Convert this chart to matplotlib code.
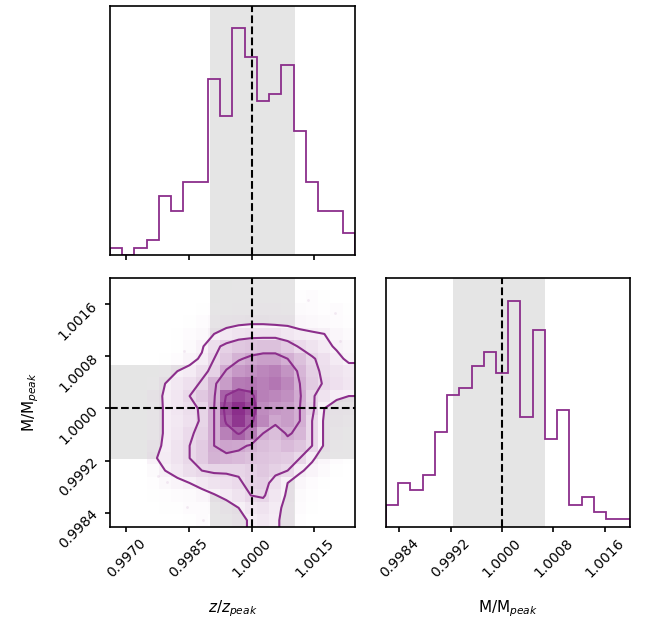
import numpy as np
import matplotlib.pyplot as plt
from matplotlib.colors import LinearSegmentedColormap

# marginal histogram counts, 20 bins each
z_counts = [1, 0, 1, 2, 8, 6, 10, 10, 24, 19, 31, 27, 21, 22, 26, 17, 10, 6, 6, 3]
m_counts = [3, 6, 5, 7, 13, 18, 19, 22, 24, 21, 31, 15, 27, 12, 16, 3, 4, 2, 1, 1]

z_range = [0.99662, 1.00247]
m_range = [0.99819, 1.00200]

# shaded intervals and reference value
z_band = [0.99900, 1.00104]
m_band = [0.99923, 1.00067]
ref = 1.0

z_ticks = [0.9970, 0.9985, 1.0000, 1.0015]
m_ticks = [0.9984, 0.9992, 1.0000, 1.0008, 1.0016]

# 2d density (20x20), first row = highest M, columns = increasing z
density = [
    [0, 0, 0, 0, 0, 0, 0, 0, 0, 0, 3.2, 3.2, 3.2, 3.2, 2.0, 0, 0, 0, 0, 0],
    [0, 0, 0, 0, 0, 0, 0, 0, 0, 2.0, 3.2, 4.3, 4.3, 4.3, 4.3, 3.2, 4.3, 2.0, 0, 0],
    [0, 0, 0, 0, 0, 0, 0, 2.0, 3.2, 4.3, 5.3, 5.3, 6.2, 6.2, 5.3, 5.3, 4.3, 3.2, 4.3, 2.0],
    [0, 0, 0, 0, 0, 0, 2.0, 4.3, 6.2, 7.0, 7.8, 8.2, 8.2, 7.8, 7.8, 7.0, 6.2, 5.3, 4.3, 3.2],
    [0, 0, 0, 0, 0, 2.0, 4.3, 6.2, 9.3, 11.4, 12.7, 13.3, 13.3, 13.3, 12.0, 10.7, 10.0, 9.3, 7.0, 5.3],
    [0, 0, 0, 0, 0, 2.0, 5.3, 8.6, 13.9, 16.3, 17.9, 18.5, 19.0, 19.0, 17.4, 14.5, 12.7, 10.7, 8.6, 7.0],
    [0, 0, 0, 0, 2.0, 4.3, 7.8, 10.0, 15.1, 17.9, 21.1, 22.6, 23.6, 23.6, 21.6, 19.0, 15.7, 13.3, 10.7, 8.2],
    [0, 0, 0, 0, 5.3, 9.3, 10.7, 13.9, 16.3, 22.1, 24.5, 25.5, 26.4, 27.3, 25.0, 20.6, 16.8, 13.9, 12.7, 11.4],
    [0, 0, 0, 4.3, 9.3, 11.4, 13.3, 15.7, 21.1, 24.0, 27.8, 28.2, 27.3, 28.2, 26.4, 21.6, 17.4, 14.5, 13.3, 12.0],
    [0, 0, 0, 7.0, 10.0, 12.0, 15.1, 17.9, 21.1, 30.4, 32.6, 30.9, 27.3, 26.4, 25.5, 22.1, 15.7, 12.7, 10.0, 9.3],
    [0, 0, 0, 6.2, 10.0, 12.0, 13.9, 15.7, 21.6, 32.2, 35.0, 32.6, 25.9, 24.5, 24.0, 21.6, 16.3, 9.3, 7.8, 7.0],
    [0, 0, 0, 6.2, 10.0, 11.4, 13.3, 15.7, 21.6, 30.9, 34.3, 30.9, 26.4, 22.6, 24.0, 21.6, 15.1, 8.6, 7.0, 6.2],
    [0, 0, 0, 6.2, 10.0, 12.0, 14.5, 16.3, 21.6, 27.3, 30.4, 27.8, 21.6, 19.5, 22.1, 20.6, 15.1, 8.6, 6.2, 4.3],
    [0, 0, 0, 7.8, 10.0, 12.7, 15.1, 17.4, 21.6, 23.1, 22.6, 21.1, 19.5, 18.5, 20.0, 18.5, 15.1, 8.6, 5.3, 3.2],
    [0, 0, 0, 8.6, 10.7, 12.7, 15.1, 17.4, 21.1, 20.6, 20.0, 19.0, 18.5, 17.9, 17.4, 15.1, 10.0, 7.0, 4.3, 2.0],
    [0, 0, 0, 5.3, 9.3, 11.4, 13.9, 15.1, 15.7, 15.7, 15.7, 16.8, 17.9, 16.3, 15.1, 10.0, 7.8, 5.3, 2.0, 0],
    [0, 0, 0, 3.2, 6.2, 7.8, 9.3, 11.4, 12.7, 13.3, 14.5, 16.3, 16.8, 13.3, 9.3, 7.0, 4.3, 2.0, 0, 0],
    [0, 0, 0, 2.0, 3.2, 4.3, 5.3, 7.0, 8.9, 10.7, 12.7, 15.1, 15.7, 12.0, 8.6, 5.3, 3.2, 0, 0, 0],
    [0, 0, 0, 0, 2.0, 2.0, 4.3, 4.3, 5.3, 7.0, 9.3, 12.0, 12.7, 10.7, 7.8, 4.3, 2.0, 0, 0, 0],
    [0, 0, 0, 0, 0, 0, 2.0, 4.3, 3.2, 5.3, 7.8, 10.0, 11.4, 10.0, 7.8, 3.2, 0, 0, 0, 0],
]
levels = [9.3, 15.1, 21.6, 30.0]

# scattered samples outside the contours
pts_z = [1.00135, 1.00199, 1.00211, 0.99838, 0.99776, 0.99798, 0.99846, 0.99884]
pts_m = [1.00167, 1.00147, 1.00103, 1.00088, 0.99896, 0.99887, 0.99849, 0.99829]

col = '#8b2e8b'
plt.rcParams['axes.linewidth'] = 1.2

fig = plt.figure(figsize=(6.49, 6.21), dpi=100)
ax_top = fig.add_axes([0.16949, 0.58937, 0.37750, 0.40177])
ax_2d = fig.add_axes([0.16949, 0.15217, 0.37750, 0.40016])
ax_r = fig.add_axes([0.59476, 0.15217, 0.37673, 0.40016])

z_edges = np.linspace(z_range[0], z_range[1], len(z_counts) + 1)
m_edges = np.linspace(m_range[0], m_range[1], len(m_counts) + 1)

# top: z histogram
ax_top.axvspan(z_band[0], z_band[1], color='gray', alpha=0.2, lw=0, zorder=0)
ax_top.stairs(z_counts, z_edges, color=col, lw=1.3)
ax_top.axvline(ref, color='k', ls='--', lw=1.5)
ax_top.set_xlim(z_range)
ax_top.set_ylim(0, 1.1 * max(z_counts))
ax_top.set_yticks([])
ax_top.set_xticks(z_ticks)
ax_top.set_xticklabels([])

# right: M histogram
ax_r.axvspan(m_band[0], m_band[1], color='gray', alpha=0.2, lw=0, zorder=0)
ax_r.stairs(m_counts, m_edges, color=col, lw=1.3)
ax_r.axvline(ref, color='k', ls='--', lw=1.5)
ax_r.set_xlim(m_range)
ax_r.set_ylim(0, 1.1 * max(m_counts))
ax_r.set_yticks([])
ax_r.set_xticks(m_ticks)
ax_r.set_xticklabels(['%.4f' % t for t in m_ticks], rotation=45)
ax_r.set_xlabel('M/M$_{peak}$', fontsize=11)
ax_r.xaxis.set_label_coords(0.5, -0.29)

# 2d panel
H = np.array(density)[::-1]
ax_2d.axvspan(z_band[0], z_band[1], color='gray', alpha=0.2, lw=0, zorder=0)
ax_2d.axhspan(m_band[0], m_band[1], color='gray', alpha=0.2, lw=0, zorder=0)
ax_2d.plot(pts_z, pts_m, 'o', color=col, ms=2, alpha=0.1, mec='none', zorder=0.5)

zc = 0.5 * (z_edges[1:] + z_edges[:-1])
mc = 0.5 * (m_edges[1:] + m_edges[:-1])
dz = zc[1] - zc[0]
dm = mc[1] - mc[0]
Z2 = np.concatenate([zc[0] + np.array([-2, -1]) * dz, zc, zc[-1] + np.array([1, 2]) * dz])
M2 = np.concatenate([mc[0] + np.array([-2, -1]) * dm, mc, mc[-1] + np.array([1, 2]) * dm])
H2 = np.pad(np.pad(H, 1, mode='edge'), 1, mode='constant', constant_values=H.min())

ax_2d.contourf(Z2, M2, H2, [levels[0], H.max()], colors='white', antialiased=False, zorder=0.8)
dens_cmap = LinearSegmentedColormap.from_list('dens', [(1, 1, 1, 0), col])
ax_2d.pcolormesh(z_edges, m_edges, H, cmap=dens_cmap, vmin=0, vmax=H.max(), zorder=0.9)
ax_2d.contour(Z2, M2, H2, levels, colors=col, linewidths=1.5, zorder=1.5)

ax_2d.axvline(ref, color='k', ls='--', lw=1.5, zorder=3)
ax_2d.axhline(ref, color='k', ls='--', lw=1.5, zorder=3)
ax_2d.set_xlim(z_range)
ax_2d.set_ylim(m_range)
ax_2d.set_xticks(z_ticks)
ax_2d.set_xticklabels(['%.4f' % t for t in z_ticks], rotation=45)
ax_2d.set_yticks(m_ticks)
ax_2d.set_yticklabels(['%.4f' % t for t in m_ticks], rotation=45)
ax_2d.set_xlabel('$z/z_{peak}$', fontsize=11)
ax_2d.set_ylabel('M/M$_{peak}$', fontsize=11)
ax_2d.xaxis.set_label_coords(0.5, -0.29)
ax_2d.yaxis.set_label_coords(-0.28, 0.5)

for ax in (ax_top, ax_2d, ax_r):
    ax.tick_params(labelsize=10, width=1.2)

fig.savefig('out.png', dpi=100)
